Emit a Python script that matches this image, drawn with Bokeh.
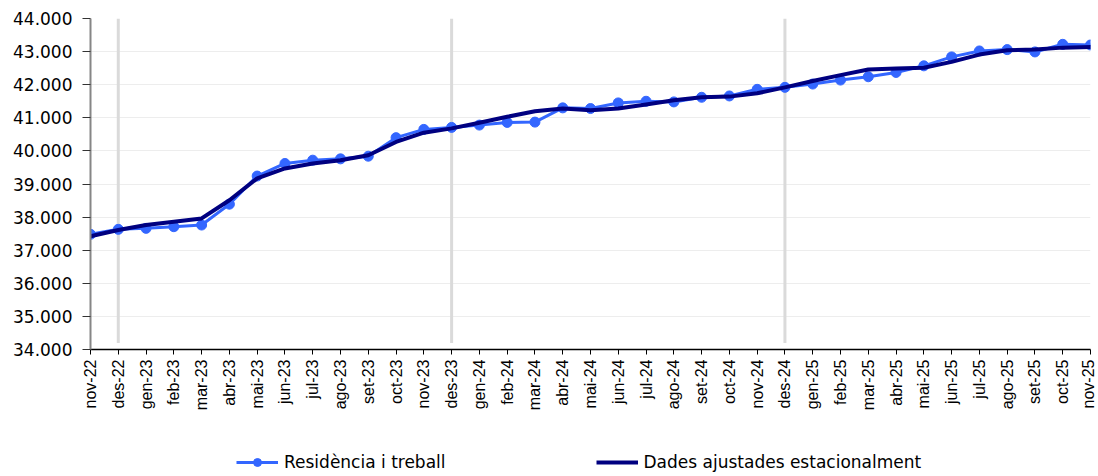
import math
from bokeh.plotting import figure
from bokeh.layouts import column
from bokeh.models import FixedTicker, Legend, LegendItem, Range1d
from bokeh.embed import file_html
from bokeh.resources import INLINE

categories = ["nov-22", "des-22", "gen-23", "feb-23", "mar-23", "abr-23", "mai-23", "jun-23",
              "jul-23", "ago-23", "set-23", "oct-23", "nov-23", "des-23", "gen-24", "feb-24",
              "mar-24", "abr-24", "mai-24", "jun-24", "jul-24", "ago-24", "set-24", "oct-24",
              "nov-24", "des-24", "gen-25", "feb-25", "mar-25", "abr-25", "mai-25", "jun-25",
              "jul-25", "ago-25", "set-25", "oct-25", "nov-25"]

residencia = [37480, 37630, 37660, 37710, 37760, 38390, 39240, 39620, 39720, 39760, 39840,
              40400, 40650, 40710, 40780, 40860, 40870, 41300, 41280, 41450, 41500, 41480,
              41620, 41660, 41860, 41920, 42020, 42140, 42240, 42370, 42570, 42840, 43020,
              43060, 42990, 43220, 43200]

ajustades = [37420, 37610, 37760, 37860, 37960, 38510, 39170, 39470, 39620, 39720, 39870,
             40270, 40550, 40680, 40850, 41030, 41200, 41280, 41230, 41280, 41400, 41530,
             41620, 41640, 41740, 41920, 42110, 42290, 42460, 42490, 42510, 42690, 42910,
             43040, 43060, 43120, 43140]

series_names = ["Residència i treball", "Dades ajustades estacionalment"]

y_ticks = list(range(34000, 44001, 1000))

BLUE = "#3366FF"
NAVY = "#000080"

x = list(range(len(categories)))

p = figure(width=1096, height=420,
           x_range=Range1d(0, len(categories) - 1),
           y_range=Range1d(y_ticks[0], y_ticks[-1]),
           output_backend="svg", toolbar_location=None,
           min_border_left=90, min_border_right=6, min_border_top=18, min_border_bottom=71)
p.outline_line_color = None
p.background_fill_color = "white"

# Gridlines
p.xgrid.grid_line_color = None
p.ygrid.grid_line_color = "#EDEDED"
p.ygrid.grid_line_width = 1
p.ygrid.ticker = FixedTicker(ticks=y_ticks)

# Year separators at each December
dec_idx = [i for i, c in enumerate(categories) if c.startswith("des")]
p.segment(x0=dec_idx, x1=dec_idx,
          y0=[y_ticks[0] + 200] * len(dec_idx), y1=[y_ticks[-1]] * len(dec_idx),
          line_color="#DADADA", line_width=3)

# Series
p.line(x, residencia, line_color=BLUE, line_width=3, line_join="round")
p.scatter(x, residencia, size=10, fill_color=BLUE, line_color=BLUE)
p.line(x, ajustades, line_color=NAVY, line_width=4, line_join="round", line_cap="round")

# Y axis
yax = p.yaxis[0]
yax.ticker = FixedTicker(ticks=y_ticks)
yax.major_label_overrides = {v: f"{v:,}".replace(",", ".") for v in y_ticks}
yax.axis_line_color = "#868686"
yax.axis_line_width = 2
yax.major_tick_line_color = "#333333"
yax.major_tick_in = 0
yax.major_tick_out = 8
yax.minor_tick_line_color = None
yax.major_label_standoff = 10
yax.major_label_text_font = "DejaVu Sans"
yax.major_label_text_font_size = "17px"
yax.major_label_text_color = "#000000"

# X axis
xax = p.xaxis[0]
xax.ticker = FixedTicker(ticks=x)
xax.major_label_overrides = {i: c for i, c in enumerate(categories)}
xax.major_label_orientation = math.pi / 2
xax.axis_line_color = "#000000"
xax.axis_line_width = 1.5
xax.major_tick_line_color = "#000000"
xax.major_tick_in = 0
xax.major_tick_out = 5
xax.minor_tick_line_color = None
xax.major_label_standoff = 5
xax.major_label_text_font = "Liberation Sans"
xax.major_label_text_font_size = "16px"
xax.major_label_text_color = "#000000"

# Legend strip below the chart (series proxies lie outside this strip's ranges)
lg = figure(width=1096, height=54, x_range=Range1d(-100, -99), y_range=Range1d(-100, -99),
            output_backend="svg", toolbar_location=None,
            x_axis_location=None, y_axis_location=None,
            min_border_left=0, min_border_right=0, min_border_top=0, min_border_bottom=0)
lg.outline_line_color = None
lg.xgrid.grid_line_color = None
lg.ygrid.grid_line_color = None
k_line = lg.line(x, residencia, line_color=BLUE, line_width=3)
k_pts = lg.scatter(x, residencia, size=10, fill_color=BLUE, line_color=BLUE)
k_adj = lg.line(x, ajustades, line_color=NAVY, line_width=4)

legend = Legend(items=[LegendItem(label=series_names[0], renderers=[k_line, k_pts]),
                       LegendItem(label=series_names[1], renderers=[k_adj])],
                orientation="horizontal", location=(146, 2),
                glyph_width=42, glyph_height=20, label_standoff=6, spacing=150,
                padding=0, margin=0, border_line_color=None, background_fill_alpha=0,
                label_text_font="DejaVu Sans", label_text_font_size="17px",
                label_text_color="#000000")
lg.add_layout(legend, "center")

layout = column(p, lg, spacing=0)
open("out.html", "w").write(file_html(layout, INLINE))
